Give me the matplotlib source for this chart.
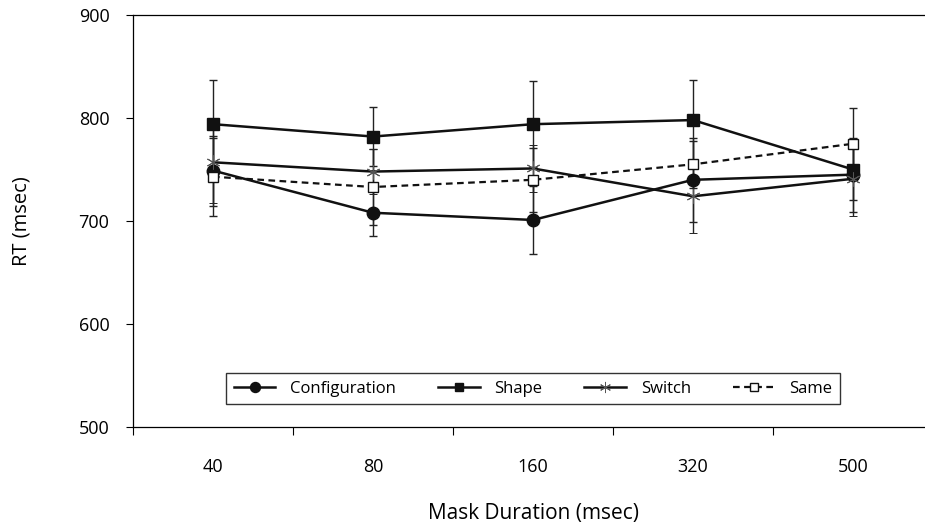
import matplotlib
matplotlib.use("Agg")
import matplotlib.pyplot as plt
from matplotlib.lines import Line2D
import numpy as np

plt.rcParams['font.family'] = ['Open Sans', 'DejaVu Sans']

durations = ['40', '80', '160', '320', '500']

config = [749, 708, 701, 740, 745]
config_err = [34, 23, 33, 41, 36]
shape = [794, 782, 794, 798, 750]
shape_err = [43, 29, 42, 39, 30]
switch = [757, 748, 751, 724, 741]
switch_err = [40, 22, 23, 36, 36]
same = [743, 733, 740, 755, 775]
same_err = [38, 37, 31, 23, 35]

fig = plt.figure(figsize=(9.25, 5.27), dpi=100)
ax = fig.add_axes([133/925, 100/527, 800/925, 412/527])

x = np.arange(len(durations))
ekw = dict(ecolor='#222222', elinewidth=1.0, capsize=3, capthick=1.0)
k = '#111111'

styles = {
    'Configuration': dict(color=k, lw=1.8, marker='o', ms=9),
    'Shape': dict(color=k, lw=1.8, marker='s', ms=8),
    'Switch': dict(color=k, lw=1.8, marker=(6, 2, 0), ms=10, mew=0.7, mec='#555555'),
    'Same': dict(color=k, lw=1.6, ls=(0, (3, 2)), marker='s', ms=7, mfc='white', mew=1.0),
}

ax.errorbar(x, config, yerr=config_err, **styles['Configuration'], **ekw)
ax.errorbar(x, shape, yerr=shape_err, **styles['Shape'], **ekw)
ax.errorbar(x, switch, yerr=switch_err, **styles['Switch'], **ekw)
ax.errorbar(x, same, yerr=same_err, **styles['Same'], **ekw)

ax.set_xlim(-0.5, 4.5)
ax.set_ylim(500, 900)
ax.set_yticks([500, 600, 700, 800, 900])

ax.set_xticks(np.arange(-0.5, 5, 1.0))
ax.set_xticklabels([])
ax.set_xticks(x, minor=True)
ax.set_xticklabels(durations, minor=True)
ax.tick_params(axis='x', which='major', length=6, width=0.8, direction='out')
ax.tick_params(axis='x', which='minor', length=0, pad=22, labelsize=13)
ax.tick_params(axis='y', length=5, width=0.8, direction='out', pad=12, labelsize=13)

for s in ['left', 'bottom', 'top']:
    ax.spines[s].set_linewidth(0.9)
ax.spines['right'].set_visible(False)

ax.set_ylabel('RT (msec)', fontsize=14.5, va='center')
ax.yaxis.set_label_coords((22 - 133)/800, 0.5)
ax.set_xlabel('Mask Duration (msec)', fontsize=15)
ax.xaxis.set_label_coords(0.5, -(513 - 427)/412)
ax.xaxis.label.set_va('center')

handles = [Line2D([], [], **styles[n]) for n in styles]
leg = ax.legend(handles, list(styles), loc='lower center', bbox_to_anchor=(0.5, 0.035), ncol=4,
                frameon=True, fancybox=False, edgecolor='black', fontsize=12,
                handlelength=2.5, columnspacing=2.5, borderpad=0.45, handletextpad=0.9,
                markerscale=0.8)
leg.get_frame().set_linewidth(1.0)

fig.savefig('out.png', dpi=100)
